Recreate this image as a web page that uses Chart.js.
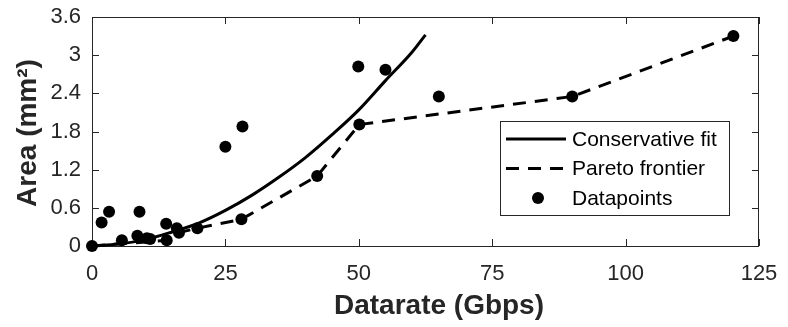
<!DOCTYPE html>
<html><head><meta charset="utf-8">
<script src="https://cdn.jsdelivr.net/npm/chart.js@4/dist/chart.umd.min.js"></script>
<style>html,body{margin:0;padding:0;background:#fff}#wrap{width:788px;height:327px;position:relative}</style>
</head><body><div id="wrap"><canvas id="c" width="788" height="327"></canvas></div>
<script>
// Conservative fit
const fitX = [0, 5, 10, 15, 20, 25, 30, 35, 40, 45, 50, 55, 60, 62.5];
const fitY = [0, 0.03, 0.10, 0.22, 0.36, 0.56, 0.80, 1.08, 1.39, 1.75, 2.14, 2.60, 3.05, 3.32];
// Pareto frontier
const parX = [0, 14.0, 16.3, 19.75, 28.0, 42.2, 50.1, 90.0, 120.2];
const parY = [0, 0.09, 0.21, 0.28, 0.42, 1.10, 1.91, 2.35, 3.30];
// Datapoints
const dpX = [0, 1.8, 3.2, 5.6, 8.5, 8.9, 10.3, 10.9, 13.9, 14.0, 15.9, 16.3, 19.75, 25.0, 28.0, 28.2, 42.2, 49.9, 50.1, 55.0, 65.0, 90.0, 120.2];
const dpY = [0, 0.37, 0.54, 0.09, 0.16, 0.54, 0.12, 0.11, 0.35, 0.09, 0.28, 0.21, 0.28, 1.56, 0.42, 1.88, 1.10, 2.82, 1.91, 2.77, 2.35, 2.35, 3.30];
// Ticks and labels
const xTicks = [0, 25, 50, 75, 100, 125];
const yTicks = [0, 0.6, 1.2, 1.8, 2.4, 3, 3.6];
const seriesNames = ['Conservative fit', 'Pareto frontier', 'Datapoints'];
const xTitle = 'Datarate (Gbps)';
const yTitle = 'Area (mm\u00B2)';

const pts = (xs, ys) => xs.map((x, i) => ({x: x, y: ys[i]}));
const AX = '#262626';
const FONT = 'Liberation Sans, Arial, Helvetica, sans-serif';
const DASH = [13, 9];

const framePlugin = {
  id: 'frame',
  beforeDatasetsDraw(chart) {
    const {ctx, chartArea: a, scales: {x, y}} = chart;
    ctx.save();
    ctx.strokeStyle = AX; ctx.lineWidth = 1;
    ctx.strokeRect(Math.round(a.left) + 0.5, Math.round(a.top) + 0.5, Math.round(a.right - a.left) - 1, Math.round(a.bottom - a.top));
    const L = 7;
    ctx.beginPath();
    x.ticks.forEach(t => {
      const px = Math.round(x.getPixelForValue(t.value)) + 0.5;
      ctx.moveTo(px, a.bottom); ctx.lineTo(px, a.bottom - L);
      ctx.moveTo(px, a.top); ctx.lineTo(px, a.top + L);
    });
    y.ticks.forEach(t => {
      const py = Math.round(y.getPixelForValue(t.value)) + 0.5;
      ctx.moveTo(a.left, py); ctx.lineTo(a.left + L, py);
      ctx.moveTo(a.right, py); ctx.lineTo(a.right - L, py);
    });
    ctx.stroke();
    ctx.restore();
  }
};

const titlePlugin = {
  id: 'axisTitles',
  afterDraw(chart) {
    const ctx = chart.ctx;
    ctx.save();
    ctx.fillStyle = AX;
    ctx.font = 'bold 28px ' + FONT;
    ctx.textAlign = 'center'; ctx.textBaseline = 'alphabetic';
    ctx.fillText(xTitle, 439, 314);
    ctx.translate(36, 133);
    ctx.rotate(-Math.PI / 2);
    ctx.fillText(yTitle, 0, 0);
    ctx.restore();
  }
};

const legendPlugin = {
  id: 'boxLegend',
  afterDraw(chart) {
    const ctx = chart.ctx;
    const bx = 500.5, by = 121.5, bw = 229, bh = 94;
    ctx.save();
    ctx.fillStyle = '#fff'; ctx.fillRect(bx, by, bw, bh);
    ctx.strokeStyle = AX; ctx.lineWidth = 1; ctx.strokeRect(bx, by, bw, bh);
    const rows = [139, 168.5, 198];
    const ds = chart.data.datasets;
    ctx.font = '21px ' + FONT; ctx.textBaseline = 'middle'; ctx.textAlign = 'left';
    for (let i = 0; i < 3; i++) {
      const yy = rows[i];
      const d = ds[i];
      if (i < 2) {
        ctx.beginPath(); ctx.strokeStyle = '#000'; ctx.lineWidth = 3;
        ctx.setLineDash(d.borderDash || []);
        ctx.moveTo(506, yy); ctx.lineTo(566, yy); ctx.stroke();
        ctx.setLineDash([]);
      } else {
        ctx.beginPath(); ctx.fillStyle = '#000'; ctx.arc(538, yy, 6, 0, Math.PI * 2); ctx.fill();
      }
      ctx.fillStyle = '#000';
      ctx.fillText(d.label, 572, yy + 1);
    }
    ctx.restore();
  }
};

new Chart(document.getElementById('c'), {
  type: 'scatter',
  data: {
    datasets: [
      {label: seriesNames[0], data: pts(fitX, fitY), showLine: true, borderColor: '#000', borderWidth: 3,
       pointRadius: 0, cubicInterpolationMode: 'monotone', order: 2, clip: false},
      {label: seriesNames[1], data: pts(parX, parY), showLine: true, borderColor: '#000', borderWidth: 3,
       borderDash: DASH, pointRadius: 0, tension: 0, order: 1, clip: false},
      {label: seriesNames[2], data: pts(dpX, dpY), showLine: false, backgroundColor: '#000', borderColor: '#000',
       pointRadius: 6, pointBorderWidth: 0, order: 0, clip: false}
    ]
  },
  options: {
    responsive: false, animation: false, devicePixelRatio: 1,
    layout: {padding: {top: 17, right: 29, left: 0, bottom: 0}},
    plugins: {legend: {display: false}, tooltip: {enabled: false}},
    scales: {
      x: {
        type: 'linear', min: 0, max: 125,
        afterBuildTicks: s => { s.ticks = xTicks.map(v => ({value: v})); },
        afterFit: s => { s.height = 81; s.paddingLeft = 0; s.paddingRight = 0; },
        grid: {display: false, drawTicks: false}, border: {display: false},
        ticks: {color: AX, padding: 15, font: {family: FONT, size: 22}, callback: v => String(v)},
        title: {display: false}
      },
      y: {
        type: 'linear', min: 0, max: 3.6,
        afterBuildTicks: s => { s.ticks = yTicks.map(v => ({value: v})); },
        afterFit: s => { s.width = 92; s.paddingTop = 0; s.paddingBottom = 0; },
        grid: {display: false, drawTicks: false}, border: {display: false},
        ticks: {color: AX, padding: 11, font: {family: FONT, size: 22}, callback: v => String(Math.round(v * 10) / 10)},
        title: {display: false}
      }
    }
  },
  plugins: [framePlugin, titlePlugin, legendPlugin]
});
</script></body></html>
